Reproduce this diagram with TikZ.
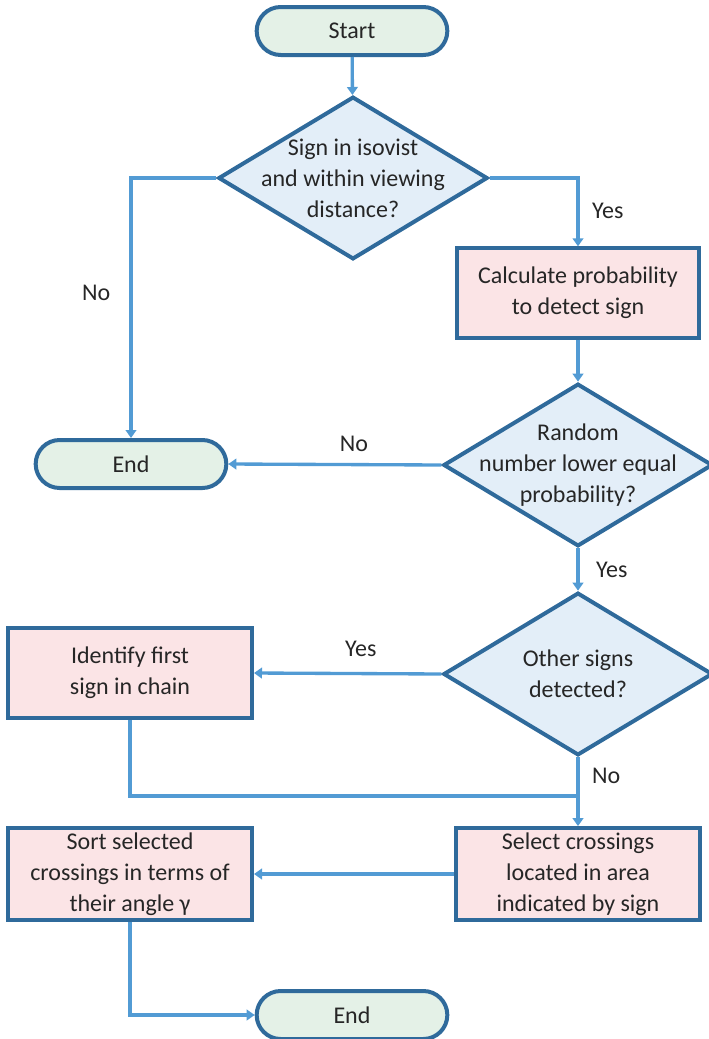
\documentclass[tikz,border=0pt]{standalone}
\usepackage{fontspec}
\setmainfont{Carlito}
\usetikzlibrary{shapes.geometric, arrows.meta}

\definecolor{frameblue}{HTML}{2F6A9B}
\definecolor{arrowblue}{HTML}{529BD4}
\definecolor{termfill}{HTML}{E4F1E7}
\definecolor{decfill}{HTML}{E3EEF8}
\definecolor{procfill}{HTML}{FBE4E6}
\definecolor{txtgray}{HTML}{262626}

\begin{document}
\begin{tikzpicture}[
  x = 0.75pt, y = -0.75pt,
  font = \fontsize{18}{23.3}\selectfont,
  text = txtgray,
  terminal/.style = {rectangle, rounded corners = 18pt, draw = frameblue,
    line width = 3pt, fill = termfill,
    minimum width = 143pt, minimum height = 36pt},
  decision/.style = {diamond, draw = frameblue, line width = 3pt,
    fill = decfill, inner sep = 0pt,
    minimum width = 202pt, minimum height = 122pt},
  process/.style = {rectangle, draw = frameblue, line width = 3pt,
    fill = procfill, align = center,
    minimum width = 183pt, minimum height = 68pt},
  arrow/.style = {draw = arrowblue, line width = 2.5pt,
    -{Triangle[width = 8pt, length = 6pt]}},
  line/.style = {draw = arrowblue, line width = 2.5pt}
  ]

  \useasboundingbox (0, 0) rectangle (708, 1039);

  % Nodes
  \node at (352,  31) [terminal, name = start] {Start};
  \node at (353, 178) [decision, name = isovist,
    label = {[align = center]center:Sign in isovist\\and within viewing\\distance?}] {};
  \node at (131, 464) [terminal, name = end_a] {End};

  \node at (578, 293) [process, name = calc,
    minimum width = 182pt, minimum height = 67pt]
    {Calculate probability\\to detect sign};
  \node at (578, 465) [decision, name = random,
    label = {[align = center]center:Random\\number lower equal\\probability?}] {};
  \node at (578, 674) [decision, name = others,
    label = {[align = center]center:Other signs\\detected?}] {};

  \node at (130, 673) [process, name = ident] {Identify first\\sign in chain};
  \coordinate (join) at (578, 796);

  \node at (578, 874) [process, name = select]
    {Select crossings\\located in area\\indicated by sign};
  \node at (130, 874) [process, name = sort]
    {Sort selected\\crossings in terms of\\their angle γ};
  \node at (352, 1015) [terminal, name = end_b] {End};

  % Arrows
  \draw [arrow] (start) -- (isovist);
  \draw [arrow] (isovist.west) -| node [left = 11pt, pos = 0.72] {No} (end_a.north);
  \draw [arrow] (isovist.east) -| node [right = 6pt, pos = 0.74] {Yes} (calc.north);
  \draw [arrow] (calc) -- (random);
  \draw [arrow] (random.west) -- node [above = 5pt, pos = 0.41] {No} (end_a.east);
  \draw [arrow] (random.south) -- node [right = 9pt, pos = 0.5] {Yes} (others.north);
  \draw [arrow] (others.west) -- node [above = 8pt, pos = 0.43] {Yes} (ident.east);
  \draw [arrow] (others.south) -- node [right = 6pt, pos = 0.27] {No} (select.north);
  \draw [line] (ident.south) |- (join);
  \draw [arrow] (select.west) -- (sort.east);
  \draw [arrow] (sort.south) |- (end_b.west);

\end{tikzpicture}
\end{document}
